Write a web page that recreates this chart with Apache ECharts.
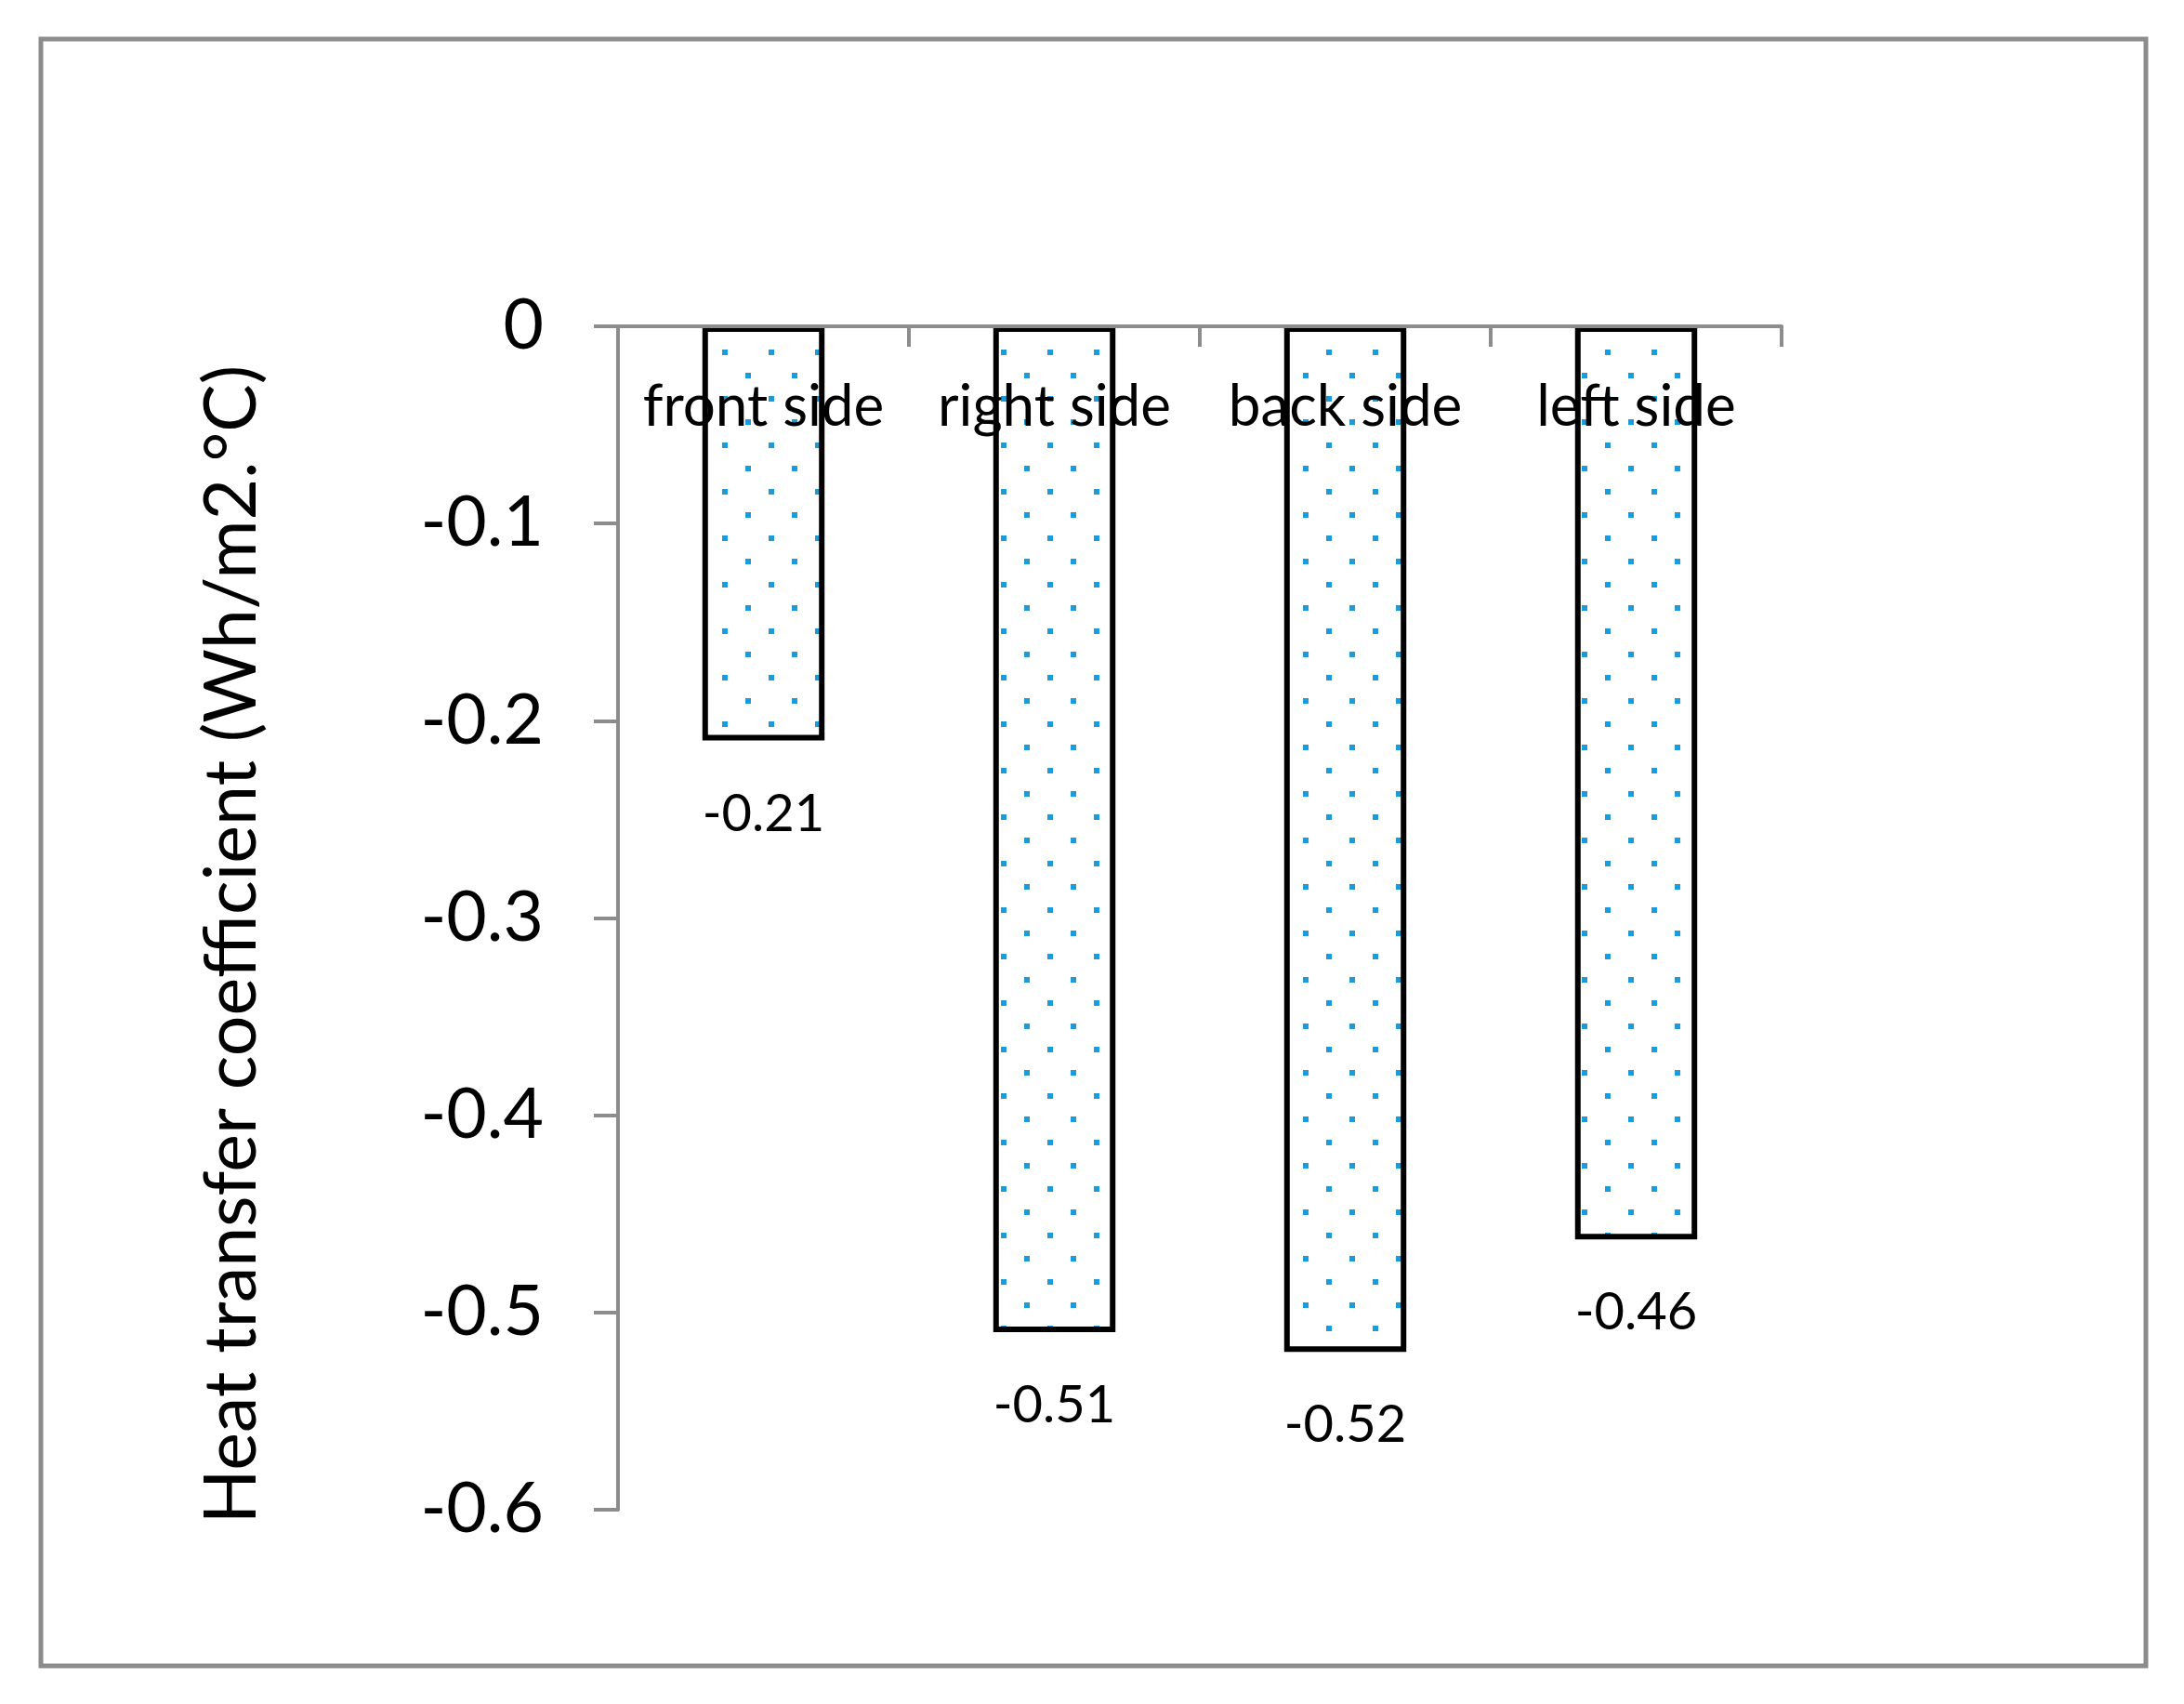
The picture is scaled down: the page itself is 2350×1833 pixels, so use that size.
<!DOCTYPE html>
<html>
<head>
<meta charset="utf-8">
<script src="https://cdn.jsdelivr.net/npm/echarts@6/dist/echarts.min.js"></script>
<style>
html,body{margin:0;padding:0;background:#fff;}
#chart{width:2350px;height:1833px;}
</style>
</head>
<body>
<div id="chart"></div>
<script>
// ---- data ----
var categories = ['front side', 'right side', 'back side', 'left side'];
var values = [-0.21, -0.51, -0.52, -0.463];
var yTicks = { min: -0.6, max: 0, interval: 0.1 };
var yTitle = 'Heat transfer coefficient (Wh/m2.°C)';

// ---- dotted pattern ----
var pat = document.createElement('canvas');
pat.width = 50; pat.height = 50;
var ctx = pat.getContext('2d');
ctx.fillStyle = '#ffffff';
ctx.fillRect(0, 0, 50, 50);
ctx.fillStyle = '#1E9BD7';
ctx.fillRect(27, 26, 6, 6);
ctx.fillRect(2, 1, 6, 6);

var FONT = 'Lato, "Liberation Sans", sans-serif';
var chart = echarts.init(document.getElementById('chart'));
chart.setOption({
  backgroundColor: '#ffffff',
  animation: false,
  grid: { left: 665, right: 433, top: 351, bottom: 209, containLabel: false },
  xAxis: {
    type: 'category',
    data: categories,
    position: 'top',
    z: 10,
    axisLine: { onZero: false, lineStyle: { color: '#8c8c8c', width: 4 } },
    axisTick: { show: true, inside: true, interval: 0, length: 22, lineStyle: { color: '#8c8c8c', width: 4 } },
    axisLabel: { inside: true, interval: 0, hideOverlap: false, color: '#000', fontFamily: FONT, fontSize: 62, margin: 56 }
  },
  yAxis: {
    type: 'value',
    min: yTicks.min, max: yTicks.max, interval: yTicks.interval,
    splitLine: { show: false },
    axisLine: { show: true, lineStyle: { color: '#8c8c8c', width: 4 } },
    axisTick: { show: true, length: 26, lineStyle: { color: '#8c8c8c', width: 4 } },
    axisLabel: { color: '#000', fontFamily: FONT, fontSize: 75, margin: 80 }
  },
  series: [{
    type: 'bar',
    data: values,
    barWidth: '42%',
    itemStyle: {
      color: { image: pat, repeat: 'repeat' },
      borderColor: '#000',
      borderWidth: 6
    },
    label: {
      show: true,
      position: 'bottom',
      distance: 51,
      color: '#000',
      fontFamily: FONT,
      fontSize: 56,
      formatter: function (p) { return p.value.toFixed(2); }
    }
  }],
  graphic: [
    {
      type: 'rect',
      shape: { x: 44, y: 42, width: 2265, height: 1750 },
      style: { fill: 'none', stroke: '#8c8c8c', lineWidth: 5 },
      silent: true
    },
    {
      type: 'text',
      x: 250, y: 1016,
      rotation: Math.PI / 2,
      style: {
        text: yTitle,
        fill: '#000',
        font: '77px ' + FONT,
        textAlign: 'center',
        textVerticalAlign: 'middle'
      }
    }
  ]
});
</script>
</body>
</html>
